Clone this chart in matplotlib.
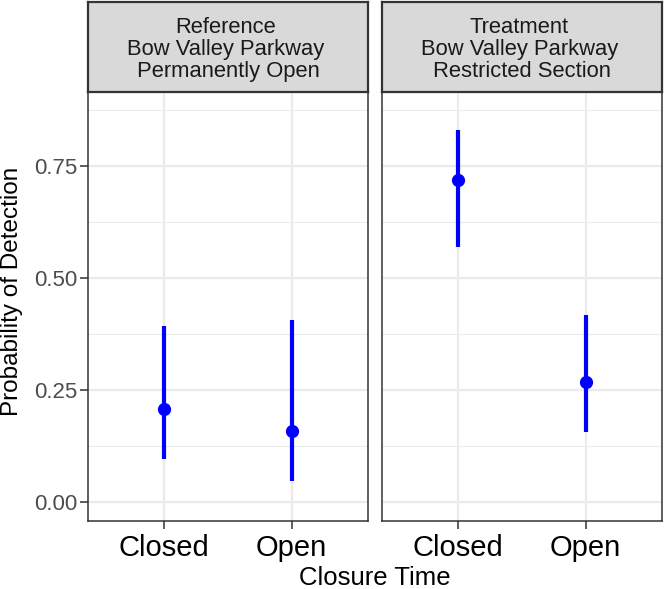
import matplotlib
matplotlib.use('Agg')
import matplotlib.pyplot as plt
import numpy as np

plt.rcParams['font.family'] = ['Liberation Sans', 'DejaVu Sans']

# data
panels = ['Reference\nBow Valley Parkway\n Permanently Open',
          'Treatment\nBow Valley Parkway\n Restricted Section']
categories = ['Closed', 'Open']
estimate = [[0.208, 0.158], [0.718, 0.267]]
lower = [[0.096, 0.048], [0.570, 0.156]]
upper = [[0.392, 0.407], [0.831, 0.418]]
yticks = [0.00, 0.25, 0.50, 0.75]

W, H = 664, 589
fig = plt.figure(figsize=(W / 100, H / 100), dpi=100)

def box(x0, x1, y0, y1):
    # pixel box -> figure fraction [left, bottom, width, height]
    return [x0 / W, 1 - y1 / H, (x1 - x0) / W, (y1 - y0) / H]

panel_x = [(88, 368), (382, 662)]
dark = '#333333'

for i, (x0, x1) in enumerate(panel_x):
    ax = fig.add_axes(box(x0, x1, 92, 521))
    xs = np.arange(len(categories))
    ax.set_xlim(-0.6, len(categories) - 0.4)
    ax.set_ylim(-0.042, 0.915)
    ax.set_yticks(yticks)
    ax.set_yticks([0.125, 0.375, 0.625, 0.875], minor=True)
    ax.set_xticks(xs)
    ax.set_xticklabels(categories, fontsize=21, color='black')
    ax.grid(True, which='major', color='#EBEBEB', lw=1.6, zorder=0)
    ax.grid(True, which='minor', axis='y', color='#EBEBEB', lw=0.8, zorder=0)
    ax.set_axisbelow(True)
    ax.tick_params(axis='both', which='major', length=5.5, width=1.1, color=dark)
    ax.tick_params(axis='y', which='minor', length=0)
    ax.tick_params(axis='x', pad=4)
    ax.tick_params(axis='y', pad=2.5)
    if i == 0:
        ax.set_yticklabels([f'{v:.2f}' for v in yticks], fontsize=16, color='#4D4D4D')
    else:
        ax.tick_params(axis='y', which='major', length=0, labelleft=False)
    for s in ax.spines.values():
        s.set_color(dark)
        s.set_linewidth(1.1)

    ax.vlines(xs, lower[i], upper[i], color='#0000FF', lw=3, zorder=3)
    ax.plot(xs, estimate[i], 'o', color='#0000FF', ms=8.5, zorder=4)

    # facet strip
    st = fig.add_axes(box(x0, x1, 2, 92))
    st.set_facecolor('#D9D9D9')
    st.set_xticks([])
    st.set_yticks([])
    for s in st.spines.values():
        s.set_color(dark)
        s.set_linewidth(1.6)
    st.text(0.49, 0.47, panels[i], ha='center', va='center', fontsize=15.8,
            color='#1A1A1A', linespacing=1.08, transform=st.transAxes)

fig.text(375 / W, 1 - 578 / H, 'Closure Time', ha='center', va='center', fontsize=18.5)
fig.text(12 / W, 1 - 291 / H, 'Probability of Detection', ha='center', va='center',
         rotation=90, fontsize=17.5)

fig.savefig('out.png', dpi=100)
